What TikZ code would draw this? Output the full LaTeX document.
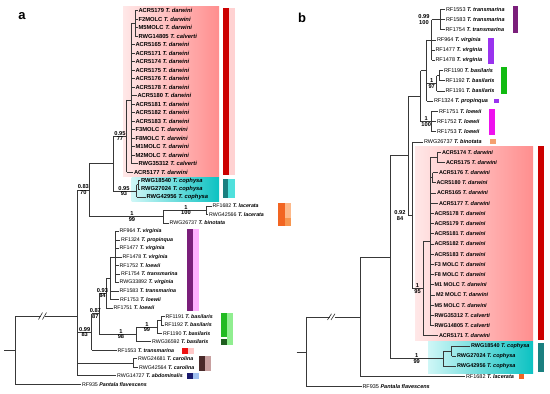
\documentclass[tikz,border=0pt]{standalone}
\usepackage{fontspec}
\setmainfont{Liberation Sans}
\definecolor{pinkL}{HTML}{FFE8E8}
\definecolor{pinkR}{HTML}{FF8E8E}
\definecolor{cyanL}{HTML}{CFF7F7}
\definecolor{cyanR}{HTML}{0CC2C2}
\definecolor{darkred}{HTML}{CC0000}
\definecolor{lightred}{HTML}{FFD2D2}
\definecolor{tealD}{HTML}{1A8080}
\definecolor{tealL}{HTML}{50E0DC}
\tikzset{
 br/.style={line width=0.65pt, draw=black!78},
 laba/.style={inner sep=0.7pt, font=\fontsize{5.8}{6}\selectfont\bfseries, anchor=west},
 labl/.style={inner sep=0.7pt, font=\fontsize{5.3}{6}\selectfont, anchor=west},
 labb/.style={inner sep=0.7pt, font=\fontsize{5.5}{6}\selectfont, anchor=west},
 sup/.style={inner sep=0.6pt, font=\fontsize{5.7}{6}\selectfont\bfseries},
}
\newcommand\TA[5]{\draw[br] (#1,#3) -- (#2,#3) node[laba]{#4 \textit{#5}};}
\newcommand\TL[5]{\draw[br] (#1,#3) -- (#2,#3) node[labl]{#4 \textbf{\textit{#5}}};}
\newcommand\TB[5]{\draw[br] (#1,#3) -- (#2,#3) node[labb]{#4 \textbf{\textit{#5}}};}
\newcommand\TBd[5]{\draw[br] (#1,#3) -- (#2,#3) node[labb]{\textbf{#4 \textit{#5}}};}
\newcommand\SP[4]{\node[sup,anchor=south] at (#1,#2) {#3}; \node[sup,anchor=north] at (#1,#2) {#4};}
\begin{document}
\begin{tikzpicture}[x=1pt,y=-1pt]
\useasboundingbox (0,0) rectangle (550,394);
% ---------- panel a backgrounds and bars ----------
\fill[left color=pinkL, right color=pinkR] (123,6.7) rectangle (219,176.7);
\fill[left color=cyanL, right color=cyanR] (131.7,177) rectangle (219,201.7);
\fill[darkred] (223,8) rectangle (229,175);
\fill[lightred] (229,8) rectangle (235,175);
\fill[tealD] (223,179) rectangle (228,197.5);
\fill[tealL] (228,179) rectangle (235,197.5);
\fill[fill={rgb,255:red,242;green,101;blue,34}] (278,203) rectangle (285,226);
\fill[fill={rgb,255:red,253;green,185;blue,138}] (285,203) rectangle (291,218);
\fill[fill={rgb,255:red,247;green,150;blue,79}] (285,218) rectangle (291,226);
\fill[fill={rgb,255:red,122;green,30;blue,122}] (187,229) rectangle (193,311);
\fill[fill={rgb,255:red,255;green,176;blue,255}] (193,229) rectangle (199,311);
\fill[fill={rgb,255:red,34;green,187;blue,34}] (220.7,313) rectangle (226.7,337);
\fill[fill={rgb,255:red,30;green,94;blue,30}] (220.7,339) rectangle (226.7,345);
\fill[fill={rgb,255:red,144;green,238;blue,144}] (226.7,313) rectangle (232.7,345);
\fill[fill={rgb,255:red,238;green,17;blue,17}] (181.7,347.7) rectangle (187.7,354);
\fill[fill={rgb,255:red,255;green,200;blue,200}] (187.7,347.7) rectangle (194,354);
\fill[fill={rgb,255:red,74;green,42;blue,42}] (199,356) rectangle (205,371);
\fill[fill={rgb,255:red,200;green,160;blue,160}] (205,356) rectangle (211,371);
\fill[fill={rgb,255:red,26;green,26;blue,110}] (187,372.7) rectangle (193,379);
\fill[fill={rgb,255:red,160;green,192;blue,240}] (193,372.7) rectangle (199,379);
% ---------- panel b backgrounds and bars ----------
\fill[left color=pinkL, right color=pinkR] (415,146.5) rectangle (533,340);
\fill[left color=cyanL, right color=cyanR] (428,341.7) rectangle (533,373.3);
\fill[darkred] (538.3,146) rectangle (544,340);
\fill[tealD] (538.3,343) rectangle (544,372);
\fill[fill={rgb,255:red,123;green,31;blue,123}] (512.7,6) rectangle (518.3,32.7);
\fill[fill={rgb,255:red,153;green,51;blue,238}] (487.7,37.7) rectangle (494,64.3);
\fill[fill={rgb,255:red,17;green,187;blue,17}] (500.7,67.3) rectangle (506.7,94.3);
\fill[fill={rgb,255:red,153;green,51;blue,238}] (494,98.7) rectangle (499.3,102.7);
\fill[fill={rgb,255:red,238;green,17;blue,238}] (489.3,109) rectangle (495,134.7);
\fill[fill={rgb,255:red,244;green,160;blue,112}] (490,139.3) rectangle (495.7,144);
\fill[fill={rgb,255:red,242;green,101;blue,34}] (519,374) rectangle (524,379.3);
% panel letters
\node[font=\fontsize{13}{13}\selectfont\bfseries] (la) at (22,16) {a};
\node[font=\fontsize{13}{13}\selectfont\bfseries] (lb) at (302,18) {b};
% ================= panel a tree =================
\begin{scope}[y=-8.49pt, yshift=-2.21pt]
\draw[br] (135,1) -- (135,4);
\TA{135}{137.5}{1}{ACR5179}{T. darwini}
\TA{135}{137.5}{2}{F2MOLC}{T. darwini}
\TA{135}{137.5}{3}{M5MOLC}{T. darwini}
\TA{135}{137.5}{4}{RWG14805}{T. calverti}
\draw[br] (131,2.5) -- (131,19) (131,2.5) -- (135,2.5);
\TA{131}{134.5}{5}{ACR5165}{T. darwini}
\TA{131}{134.5}{6}{ACR5171}{T. darwini}
\TA{131}{134.5}{7}{ACR5174}{T. darwini}
\TA{131}{134.5}{8}{ACR5175}{T. darwini}
\TA{131}{134.5}{9}{ACR5176}{T. darwini}
\TA{131}{134.5}{10}{ACR5178}{T. darwini}
\TA{131}{136.5}{11}{ACR5180}{T. darwini}
\TA{131}{134.5}{12}{ACR5181}{T. darwini}
\TA{131}{134.5}{13}{ACR5182}{T. darwini}
\TA{131}{134.5}{14}{ACR5183}{T. darwini}
\TA{131}{134.5}{15}{F3MOLC}{T. darwini}
\TA{131}{134.5}{16}{F8MOLC}{T. darwini}
\TA{131}{134.5}{17}{M1MOLC}{T. darwini}
\TA{131}{134.5}{18}{M2MOLC}{T. darwini}
\TA{131}{137.5}{19}{RWG35312}{T. calverti}
\draw[br] (126.5,11.5) -- (126.5,20) (126.5,11.5) -- (131,11.5);
\TA{126.5}{133}{20}{ACR5177}{T. darwini}
\draw[br] (138.3,21) -- (138.3,22);
\TA{138.3}{140}{21}{RWG18540}{T. cophysa}
\TA{138.3}{140}{22}{RWG27024}{T. cophysa}
\draw[br] (136.5,21.5) -- (136.5,23) (136.5,21.5) -- (138.3,21.5);
\TA{136.5}{145.5}{23}{RWG42956}{T. cophysa}
\draw[br] (113,15.75) -- (113,22.25) (113,15.75) -- (126.5,15.75) (113,22.25) -- (136.5,22.25);
\draw[br] (89,19) -- (89,25.25) (89,19) -- (113,19) (89,25.25) -- (163,25.25);
\draw[br] (163,24.5) -- (163,26) (163,24.5) -- (206,24.5);
\TL{163}{168.5}{26}{RWG26737}{T. binotata}
\draw[br] (206,24) -- (206,25);
\TL{206}{211.5}{24}{RF1682}{T. lacerata}
\TL{206}{208}{25}{RWG42566}{T. lacerata}
\draw[br] (77.7,22.1) -- (77.7,44) (77.7,22.1) -- (89,22.1);
\SP{120}{15.75}{0.95}{77}
\SP{124}{22.25}{0.95}{93}
\SP{83.3}{22.1}{0.83}{70}
\SP{132}{25.25}{1}{99}
\SP{186}{24.5}{1}{100}
% virginia group
\draw[br] (115,27) -- (115,33) (110,30) -- (115,30);
\TL{115}{118.5}{27}{RF964}{T. virginia}
\TL{115}{120}{28}{RF1324}{T. propinqua}
\TL{115}{118.5}{29}{RF1477}{T. virginia}
\TL{115}{121.5}{30}{RF1478}{T. virginia}
\TL{115}{118.5}{31}{RF1752}{T. loewii}
\TL{115}{120}{32}{RF1754}{T. transmarina}
\TL{115}{118.5}{33}{RWG33892}{T. virginia}
\draw[br] (110,30) -- (110,35) (106,32.5) -- (110,32.5);
\TL{110}{118.5}{34}{RF1583}{T. transmarina}
\TL{110}{119}{35}{RF1753}{T. loewii}
\draw[br] (106,32.5) -- (106,36) (99,34.25) -- (106,34.25);
\TL{106}{112.5}{36}{RF1751}{T. loewii}
\SP{102.5}{34.25}{0.93}{84}
% basilaris
\draw[br] (161,37) -- (161,38) (157,37.5) -- (161,37.5);
\TL{161}{164.5}{37}{RF1191}{T. basilaris}
\TL{161}{163.5}{38}{RF1192}{T. basilaris}
\draw[br] (157,37.5) -- (157,39) (136.7,38.25) -- (157,38.25);
\TL{157}{162}{39}{RF1190}{T. basilaris}
\draw[br] (136.7,38.25) -- (136.7,40) (99,39.1) -- (136.7,39.1);
\TL{136.7}{151}{40}{RWG36592}{T. basilaris}
\SP{147}{38.25}{1}{99}
\SP{121}{39.1}{1}{98}
\draw[br] (99,34.25) -- (99,39.1) (91.7,36.7) -- (99,36.7);
\SP{95.3}{36.7}{0.87}{87}
\draw[br] (91.7,36.7) -- (91.7,41) (77.7,38.85) -- (91.7,38.85);
\TL{91.7}{116.5}{41}{RF1553}{T. transmarina}
\SP{84.7}{38.85}{0.99}{83}
\draw[br] (133.3,42) -- (133.3,43) (77.7,42.5) -- (133.3,42.5);
\TL{133.3}{137}{42}{RWG24681}{T. carolina}
\TL{133.3}{138}{43}{RWG42564}{T. carolina}
\TL{77.7}{116}{44}{RWG14727}{T. abdominalis}
\draw[br] (15,36.96) -- (15,45) (4,40.98) -- (15,40.98) (15,36.96) -- (41,36.96) (45,36.96) -- (77.7,36.96);
\draw[br] (38.5,37.36) -- (42.5,36.56) (42.5,37.36) -- (46.5,36.56);
\TL{15}{81}{45}{RF935}{Pantala flavescens}
\end{scope}
% ================= panel b tree =================
\begin{scope}[y=-10.2pt, yshift=0.9pt]
\draw[br] (440.7,1) -- (440.7,3) (431.7,2) -- (440.7,2);
\TB{440.7}{445}{1}{RF1553}{T. transmarina}
\TB{440.7}{445}{2}{RF1583}{T. transmarina}
\TB{440.7}{444.5}{3}{RF1754}{T. transmarina}
\draw[br] (431.7,2) -- (431.7,6) (426.7,4) -- (431.7,4);
\TB{431.7}{436}{4}{RF964}{T. virginia}
\TB{431.7}{434.5}{5}{RF1477}{T. virginia}
\TB{431.7}{434.5}{6}{RF1478}{T. virginia}
\SP{424}{2}{0.99}{100}
\draw[br] (439.3,7) -- (439.3,8) (436.7,7.5) -- (439.3,7.5);
\TB{439.3}{443}{7}{RF1190}{T. basilaris}
\TB{439.3}{444.5}{8}{RF1192}{T. basilaris}
\draw[br] (436.7,7.5) -- (436.7,9) (426.7,8.25) -- (436.7,8.25);
\TB{436.7}{444.5}{9}{RF1191}{T. basilaris}
\SP{431.7}{8.25}{1}{97}
\TB{426.7}{433}{10}{RF1324}{T. propinqua}
\draw[br] (426.7,4) -- (426.7,10) (420.7,7) -- (426.7,7);
\draw[br] (431.7,11) -- (431.7,13) (420.7,12) -- (431.7,12);
\TB{431.7}{438}{11}{RF1751}{T. loewii}
\TB{431.7}{436}{12}{RF1752}{T. loewii}
\TB{431.7}{436}{13}{RF1753}{T. loewii}
\SP{426.2}{12}{1}{100}
\draw[br] (420.7,7) -- (420.7,12) (408.3,9.5) -- (420.7,9.5);
\draw[br] (408.3,9.5) -- (408.3,21.2) (390,15.35) -- (408.3,15.35) (408.3,21.2) -- (412.7,21.2);
\draw[br] (412.7,14) -- (412.7,28.4) (412.7,28.4) -- (423,28.4);
\TB{412.7}{423}{14}{RWG26737}{T. binotata}
\SP{400}{21.2}{0.92}{84}
\SP{417.5}{28.4}{1}{95}
\draw[br] (423,23.75) -- (423,33) (423,23.75) -- (430,23.75);
\TBd{423}{438}{33}{ACR5171}{T. darwini}
\draw[br] (430,15.5) -- (430,32);
\draw[br] (437,15) -- (437,16) (430,15.5) -- (437,15.5);
\TBd{437}{441}{15}{ACR5174}{T. darwini}
\TBd{437}{445}{16}{ACR5175}{T. darwini}
\draw[br] (432.5,17) -- (432.5,18) (430,17.5) -- (432.5,17.5);
\TBd{432.5}{438}{17}{ACR5176}{T. darwini}
\TBd{432.5}{435.5}{18}{ACR5180}{T. darwini}
\TBd{430}{436}{19}{ACR5165}{T. darwini}
\TBd{430}{438}{20}{ACR5177}{T. darwini}
\TBd{430}{433.5}{21}{ACR5178}{T. darwini}
\TBd{430}{433.5}{22}{ACR5179}{T. darwini}
\TBd{430}{433.5}{23}{ACR5181}{T. darwini}
\TBd{430}{433.5}{24}{ACR5182}{T. darwini}
\TBd{430}{433.5}{25}{ACR5183}{T. darwini}
\TBd{430}{433.5}{26}{F3 MOLC}{T. darwini}
\TBd{430}{433.5}{27}{F8 MOLC}{T. darwini}
\TBd{430}{433.5}{28}{M1 MOLC}{T. darwini}
\TBd{430}{435}{29}{M2 MOLC}{T. darwini}
\TBd{430}{433.5}{30}{M5 MOLC}{T. darwini}
\TBd{430}{433.5}{31}{RWG35312}{T. calverti}
\TBd{430}{433.5}{32}{RWG14805}{T. calverti}
\draw[br] (451.7,34) -- (451.7,35) (443.3,34.5) -- (451.7,34.5);
\TBd{451.7}{470}{34}{RWG18540}{T. cophysa}
\TBd{451.7}{456}{35}{RWG27024}{T. cophysa}
\draw[br] (443.3,34.5) -- (443.3,36) (390,35.25) -- (443.3,35.25);
\TBd{443.3}{456}{36}{RWG42956}{T. cophysa}
\SP{416.7}{35.25}{1}{99}
\draw[br] (390,15.35) -- (390,35.25) (360,25.3) -- (390,25.3);
\draw[br] (360,25.3) -- (360,37);
\TB{360}{465}{37}{RF1682}{T. lacerata}
\draw[br] (306.7,31.15) -- (306.7,38) (296.7,34.6) -- (306.7,34.6) (306.7,31.15) -- (330,31.15) (334.5,31.15) -- (360,31.15);
\draw[br] (327.5,31.45) -- (331.5,30.85) (331,31.45) -- (335,30.85);
\TB{306.7}{361.5}{38}{RF935}{Pantala flavescens}
\end{scope}
\end{tikzpicture}
\end{document}
